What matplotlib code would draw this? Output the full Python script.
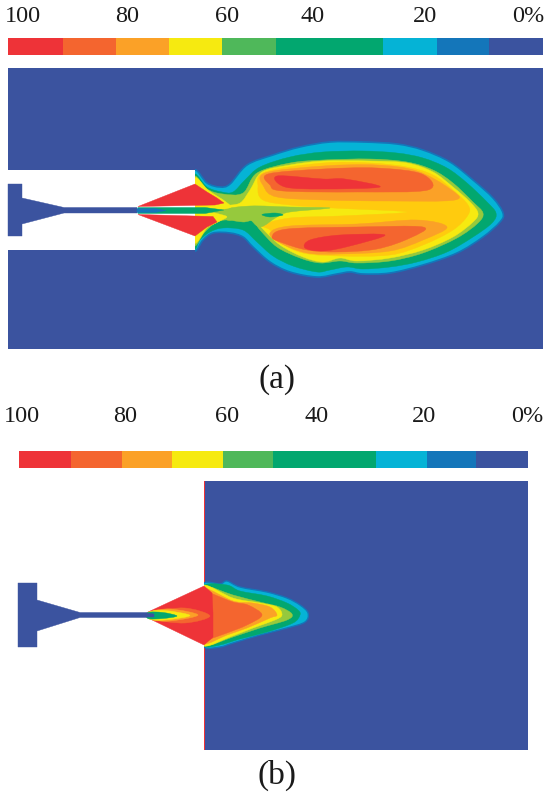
import matplotlib
matplotlib.use("Agg")
import numpy as np
import matplotlib.pyplot as plt
from matplotlib.patches import PathPatch, Rectangle
from matplotlib.path import Path

plt.rcParams["font.family"] = ["Liberation Serif", "DejaVu Serif"]

# ---------- colours (100% -> 0%) ----------
RED = "#EE3338"
ORED = "#F4652F"
ORANGE = "#FBA127"
GOLD = "#FFCB0E"
YELLOW = "#F6EA10"
LGREEN = "#96C93D"
BARLG = "#4FB85A"
GREEN = "#02A76F"
CYAN = "#05B3D6"
BLUE = "#1476BA"
DARK = "#3B539F"

bar_colors = [RED, ORED, ORANGE, YELLOW, BARLG, GREEN, GREEN, CYAN, BLUE, DARK]
bar_a_edges = [8, 63, 116, 169, 222, 276, 330, 383, 437, 489, 543]
bar_b_edges = [19, 71, 122, 172, 223, 273, 325, 376, 427, 476, 528]
tick_labels = ["100", "80", "60", "40", "20", "0%"]
tick_a_x = [23, 127, 227, 313, 425, 528]
tick_b_x = [22, 125, 227, 317, 424, 527]

# ---------- nozzle outlines ----------
nozzle_a = [(8, 184), (22, 184), (22, 198), (64, 207.5), (137, 207.5), (137, 213), (64, 213),
            (22, 224), (22, 236), (8, 236)]
nozzle_b = [(18, 583), (37, 583), (37, 600), (80, 612.5), (150, 612.5), (150, 617.5), (80, 617.5),
            (37, 631), (37, 647), (18, 647)]

# ---------- panel (a) contours ----------
a_cyan = [(195, 170), (207, 183), (220, 187), (230, 184), (247, 165), (273, 155), (300, 147), (330, 142),
          (363, 142), (397, 144), (423, 150), (450, 162), (473, 180), (493, 198), (503, 213), (500, 222),
          (483, 237), (457, 253), (423, 265), (390, 273), (363, 274), (350, 272), (337, 274), (317, 277),
          (290, 272), (270, 262), (253, 247), (243, 237), (230, 233), (213, 233), (203, 240), (195, 251),
          (190, 235), (190, 190)]
a_green = [(195, 174), (207, 187), (222, 192), (233, 192), (245, 180), (260, 167), (290, 157), (323, 152),
           (363, 151), (397, 153), (423, 158), (447, 168), (467, 183), (487, 202), (496, 213), (492, 223),
           (473, 237), (447, 252), (417, 262), (390, 267), (363, 269), (347, 267), (330, 270), (317, 272),
           (293, 266), (273, 256), (257, 242), (243, 230), (223, 228), (210, 232), (200, 240), (195, 249),
           (190, 235), (190, 190)]
a_lgreen = [(195, 176), (207, 189), (223, 194), (243, 193), (257, 173), (290, 163), (323, 160), (370, 159),
            (407, 162), (433, 170), (453, 183), (473, 202), (483, 213), (478, 223), (457, 238), (423, 253),
            (390, 261), (357, 263), (340, 261), (320, 263), (300, 258), (277, 247), (260, 230), (253, 221),
            (243, 222), (225, 220), (214, 224), (204, 233), (195, 246), (190, 235), (190, 190)]
a_yellow = [(262, 172), (290, 165), (323, 161), (370, 161), (407, 163), (433, 172), (453, 187), (470, 202),
            (478, 213), (473, 222), (453, 237), (423, 250), (390, 258), (357, 261), (340, 258), (323, 262),
            (303, 257), (280, 245), (262, 228), (256, 219), (240, 214), (224, 211), (224, 206), (240, 203),
            (250, 190)]
a_gold = [(265, 172), (323, 163), (370, 163), (407, 167), (433, 175), (453, 190), (468, 205), (468, 215),
          (453, 230), (423, 245), (390, 255), (340, 256), (303, 253), (280, 242), (270, 230), (263, 225),
          (290, 218), (340, 216), (407, 212), (333, 208), (290, 205), (263, 200), (258, 187)]
a_top_orange = [(265, 173), (323, 166), (377, 165), (417, 171), (450, 189), (455, 200), (390, 201),
                (323, 200), (277, 197), (264, 187)]
a_top_ored = [(268, 174), (323, 169), (377, 168), (422, 174), (428, 190), (357, 192), (283, 191), (270, 185)]
a_top_red = [(277, 176), (323, 179), (345, 179), (380, 187), (323, 189), (285, 187)]
a_bot_orange = [(270, 233), (290, 226), (357, 224), (417, 220), (447, 227), (423, 240), (390, 251),
                (340, 254), (307, 253), (280, 243)]
a_bot_ored = [(272, 237), (287, 229), (357, 227), (423, 227), (410, 238), (377, 249), (337, 252),
              (307, 250), (283, 243)]
a_bot_red = [(305, 248), (310, 240), (340, 235), (385, 235), (350, 246), (323, 251)]
a_wedge = [(223, 210), (250, 206), (290, 207), (330, 208), (290, 212), (277, 217), (260, 227), (247, 218),
           (227, 220)]
a_speck = [(262, 214.5), (275, 213), (283, 215), (270, 217)]
a_rim_top = [(195, 178), (208, 190), (226, 202), (229, 208), (195, 208)]
a_rim_bot = [(195, 243), (207, 228), (218, 222), (226, 216), (195, 213)]
a_cone_top = [(138, 206.5), (195, 184), (207, 192), (217, 198), (224, 203), (215, 205)]
a_cone_bot = [(138, 214.5), (195, 236), (207, 227), (217, 222), (213, 216.5)]
a_axis = [(138, 207.5), (205, 207.5), (224, 210), (205, 213.5), (138, 213.5)]
a_axis_dark = [(137, 208.5), (155, 208.5), (166, 210.5), (155, 212.5), (137, 212.5)]

# ---------- panel (b) contours ----------
b_cyan = [(204, 583), (220, 584), (227, 581), (240, 587), (267, 592), (287, 598), (300, 605), (308, 613),
          (305, 622), (287, 628), (260, 635), (233, 643), (220, 647), (204, 647), (198, 630), (198, 600)]
b_green = [(204, 585), (227, 585), (240, 591), (267, 596), (287, 603), (298, 610), (300, 615), (293, 623),
           (267, 632), (240, 639), (220, 645), (204, 646), (198, 630), (198, 600)]
b_lgreen = [(204, 586), (233, 595), (260, 602), (280, 607), (292, 614), (287, 620), (260, 628), (233, 637),
            (204, 646), (198, 630), (198, 600)]
b_yellow = [(204, 585), (233, 598), (260, 603), (277, 607), (282, 615), (275, 620), (253, 628), (230, 637),
            (204, 646), (198, 630), (198, 600)]
b_orange = [(204, 588), (233, 601), (253, 603), (270, 607), (277, 615), (270, 618), (247, 628), (227, 635),
            (204, 644), (198, 630), (198, 600)]
b_ored = [(204, 590), (213, 594), (233, 602), (248, 605), (262, 615), (247, 625), (227, 633), (213, 638),
          (204, 642), (198, 630), (198, 600)]
b_red = [(148, 612), (204, 586), (212, 593), (213, 613), (213, 637), (204, 645), (148, 618)]
b_in_ored = [(152, 612), (185, 608), (210, 616), (185, 623), (152, 619)]
b_in_orange = [(150, 612), (170, 609), (198, 615), (170, 621), (150, 619)]
b_in_yellow = [(149, 612), (165, 610.5), (190, 615.5), (165, 620), (149, 619)]
b_in_green = [(148, 612.5), (163, 612.5), (177, 616), (163, 618.5), (148, 618.5)]
b_in_blue = [(146, 613), (154, 614), (154, 617), (146, 617)]


def smooth(ax, pts, color, clip, edge=None, lw=0, z=2):
    # closed catmull-rom through the points, written as bezier segments
    p = np.array(pts, dtype=float)
    n = len(p)
    verts = [p[0]]
    codes = [Path.MOVETO]
    for i in range(n):
        p0, p1, p2, p3 = p[i - 1], p[i], p[(i + 1) % n], p[(i + 2) % n]
        verts += [p1 + (p2 - p0) / 6, p2 - (p3 - p1) / 6, p2]
        codes += [Path.CURVE4] * 3
    patch = PathPatch(Path(verts, codes), facecolor=color, edgecolor=edge or color,
                      lw=lw if edge else 0.3, zorder=z)
    ax.add_patch(patch)
    patch.set_clip_path(clip)


def sharp(ax, pts, color, z=3):
    ax.fill(*zip(*pts), color=color, lw=0.3, zorder=z)


def colorbar(ax, edges, y0, y1, labels_x, label_y):
    for i, c in enumerate(bar_colors):
        ax.add_patch(Rectangle((edges[i], y0), edges[i + 1] - edges[i], y1 - y0, color=c, lw=0))
    for x, t in zip(labels_x, tick_labels):
        ax.text(x, label_y, t, ha="center", va="center", fontsize=17.5, color="#1a1a1a")


fig = plt.figure(figsize=(5.5, 8.02), dpi=100)
ax = fig.add_axes([0, 0, 1, 1])
ax.set_xlim(0, 550)
ax.set_ylim(802, 0)
ax.axis("off")

# ---------- panel (a) ----------
colorbar(ax, bar_a_edges, 38, 55, tick_a_x, 16)
ax.add_patch(Rectangle((8, 68), 535, 281, color=DARK, lw=0, zorder=1))
ax.add_patch(Rectangle((8, 170), 187, 80, color="white", lw=0, zorder=1.5))
sharp(ax, nozzle_a, DARK, z=2)

clip_a = Rectangle((195, 68), 348, 281, transform=ax.transData)
smooth(ax, a_cyan, CYAN, clip_a, edge=BLUE, lw=1.2)
for pts, c in [(a_green, GREEN), (a_lgreen, LGREEN), (a_yellow, YELLOW), (a_gold, GOLD),
               (a_top_orange, ORANGE), (a_top_ored, ORED), (a_top_red, RED),
               (a_bot_orange, ORANGE), (a_bot_ored, ORED), (a_bot_red, RED),
               (a_wedge, LGREEN), (a_speck, GREEN)]:
    smooth(ax, pts, c, clip_a)
for pts, c in [(a_rim_top, YELLOW), (a_rim_bot, YELLOW)]:
    smooth(ax, pts, c, clip_a, z=2.5)
for pts in (a_cone_top, a_cone_bot):
    sharp(ax, pts, RED)
sharp(ax, a_axis, GREEN, z=4)
sharp(ax, a_axis_dark, BLUE, z=4)
ax.text(277, 380, "(a)", ha="center", va="center", fontsize=24, color="#1a1a1a")

# ---------- panel (b) ----------
colorbar(ax, bar_b_edges, 451, 468, tick_b_x, 416)
ax.add_patch(Rectangle((204, 481), 324, 269, color=DARK, lw=0, zorder=1))
ax.add_patch(Rectangle((203.5, 481), 1.5, 269, color=RED, lw=0, zorder=2))
sharp(ax, nozzle_b, DARK, z=2)

clip_b = Rectangle((204, 481), 324, 269, transform=ax.transData)
clip_all = Rectangle((140, 481), 388, 269, transform=ax.transData)
smooth(ax, b_cyan, CYAN, clip_b, edge=BLUE, lw=1.0, z=2.2)
for pts, c in [(b_green, GREEN), (b_lgreen, LGREEN), (b_yellow, YELLOW), (b_orange, ORANGE), (b_ored, ORED)]:
    smooth(ax, pts, c, clip_b, z=2.3)
sharp(ax, b_red, RED, z=3)
for pts, c in [(b_in_ored, ORED), (b_in_orange, ORANGE), (b_in_yellow, YELLOW), (b_in_green, GREEN)]:
    smooth(ax, pts, c, clip_all, z=3.2)
sharp(ax, b_in_blue, DARK, z=3.4)
ax.text(277, 775, "(b)", ha="center", va="center", fontsize=24, color="#1a1a1a")

fig.savefig("out.png", dpi=100)
